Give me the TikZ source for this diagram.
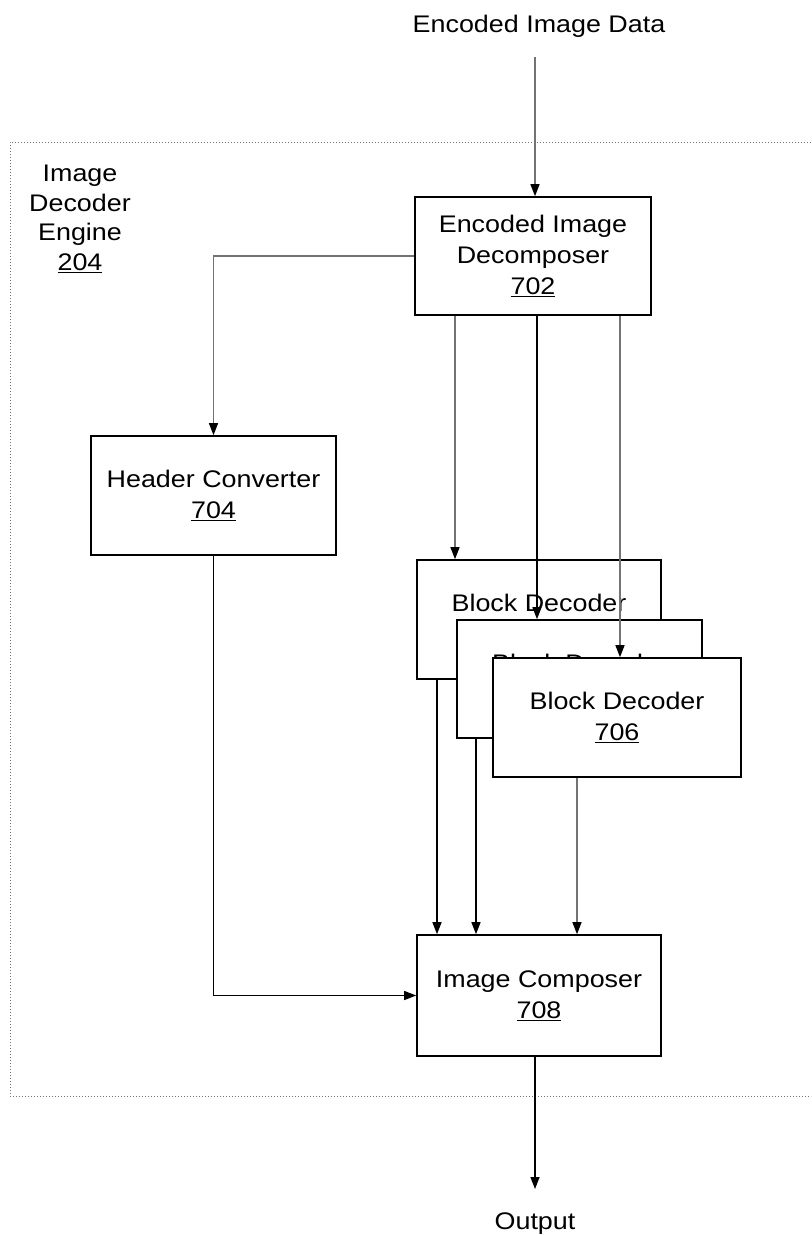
\documentclass[tikz,border=0pt]{standalone}
\usepackage{fontspec}
\setmainfont{Liberation Sans}[FakeStretch=1.12]
\usetikzlibrary{arrows.meta}
\begin{document}
\begin{tikzpicture}[x=1pt,y=-1pt,
  box/.style={draw, line width=1.6pt, fill=white, minimum width=244pt, minimum height=119pt, inner sep=0pt, align=center, font=\fontsize{24}{31}\selectfont},
  txt/.style={inner sep=0pt, align=center, font=\fontsize{24}{31}\selectfont},
  arr/.style={line width=1.3pt, -{Triangle[length=12pt,width=9pt]}},
  garr/.style={line width=1.3pt, draw=black!55, -{Triangle[length=12pt,width=9pt,color=black]}},
  frame/.style={dotted, line width=1pt, draw=black!55}
]
\useasboundingbox (0,0) rectangle (811,1236);
% outer engine frame
\draw[frame] (811,142) -- (10,142) -- (10,1096) -- (811,1096);
\node[txt, anchor=north, font=\fontsize{24}{29.5}\selectfont] (eng) at (80,165) {Image\\Decoder\\Engine\\\underline{204}};
% labels outside
\node[txt, anchor=north] (inl) at (539,15) {Encoded Image Data};
\node[txt, anchor=north] (outl) at (535,1213) {Output};
% boxes
\node[box, minimum width=236pt, minimum height=118pt] (dec) at (533,256) {Encoded Image\\Decomposer\\\underline{702}};
\node[box, minimum width=245pt] (hdr) at (213.5,495.5) {Header Converter\\\underline{704}};
\node[box] (bd1) at (539,619.5) {Block Decoder\\\underline{706}};
\node[box, minimum width=245pt, minimum height=118pt] (bd2) at (579.5,679) {Block Decoder\\\underline{706}};
\node[box, minimum width=248pt] (bd3) at (617,717.5) {Block Decoder\\\underline{706}};
\node[box, minimum height=121pt] (cmp) at (539,995.5) {Image Composer\\\underline{708}};
% helper coordinates
\coordinate (in) at (535,57);
\coordinate (out) at (535,1189);
\coordinate (xa) at (455,0);
\coordinate (xb) at (537,0);
\coordinate (xc) at (620,0);
\coordinate (xd) at (437,0);
\coordinate (xe) at (476,0);
\coordinate (xf) at (577,0);
% connectors
\draw[garr] (in) -- (in |- dec.north);
\draw[garr] (dec.west) -| (hdr.north);
\draw[garr] (dec.south -| xa) -- (bd1.north -| xa);
\draw[arr] (dec.south -| xb) -- (bd2.north -| xb);
\draw[garr] (dec.south -| xc) -- (bd3.north -| xc);
\draw[arr] (hdr.south) |- (cmp.west);
\draw[arr] (bd1.south -| xd) -- (cmp.north -| xd);
\draw[arr] (bd2.south -| xe) -- (cmp.north -| xe);
\draw[garr] (bd3.south -| xf) -- (cmp.north -| xf);
\draw[arr] (cmp.south -| out) -- (out);
\end{tikzpicture}
\end{document}
